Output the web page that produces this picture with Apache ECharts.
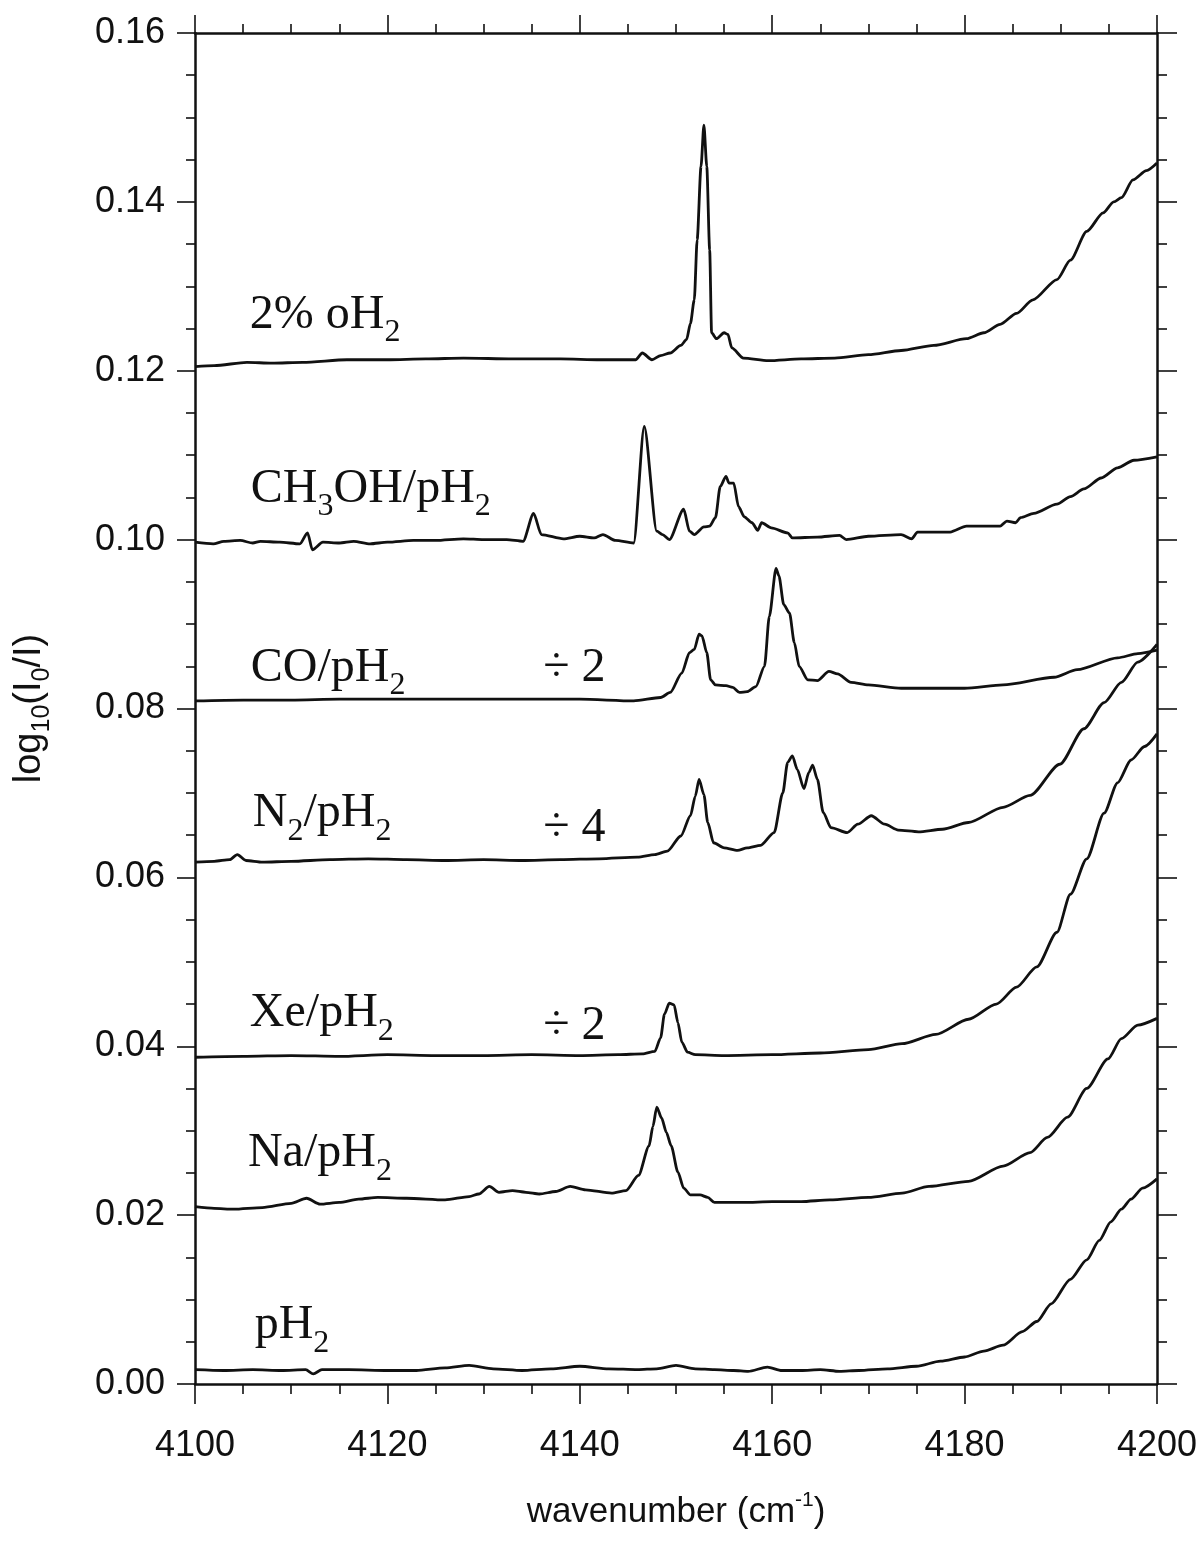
<!DOCTYPE html>
<html>
<head>
<meta charset="utf-8">
<title>Q1 region spectra of doped solid pH2</title>
<script src="https://cdn.jsdelivr.net/npm/echarts@6/dist/echarts.min.js"></script>
<style>
  html, body { margin: 0; padding: 0; background: #fff; }
  #chart { width: 1204px; height: 1543px; }
</style>
</head>
<body>
<div id="chart"></div>
<script>
// axis ranges
const xRange = [4100, 4200]
const yRange = [0, 0.16]

// traces, [wavenumber, log10(I0/I)]
const oH2 = [
  [4100, 0.1205], [4102, 0.1206], [4105.4, 0.1210], [4108, 0.1209], [4111.2, 0.1210],
  [4115.8, 0.1213], [4120, 0.1213], [4124, 0.1214], [4127.9, 0.1215], [4133, 0.1214],
  [4138, 0.1214], [4142.1, 0.1213], [4145.8, 0.1213], [4146.5, 0.1221], [4147.5, 0.1213],
  [4148.4, 0.1218], [4149.4, 0.1221], [4150.5, 0.1230], [4151.1, 0.1237], [4151.5, 0.1256],
  [4151.9, 0.1284], [4152.2, 0.1355], [4152.6, 0.1442], [4152.9, 0.1491], [4153.2, 0.1442],
  [4153.5, 0.1343], [4153.7, 0.1245], [4154.2, 0.1238], [4155.0, 0.1245], [4155.4, 0.1243],
  [4155.8, 0.1227], [4157.0, 0.1215], [4159.6, 0.1212], [4163, 0.1214], [4166.5, 0.1215],
  [4170, 0.1219], [4173.4, 0.1224], [4176.8, 0.1230], [4180.2, 0.1238], [4182, 0.1245],
  [4183.7, 0.1255], [4185.4, 0.1268], [4187.1, 0.1284], [4189.6, 0.1308], [4191, 0.1331],
  [4192.7, 0.1365], [4194.4, 0.1387], [4195.5, 0.1400], [4196.3, 0.1405], [4197.5, 0.1426],
  [4198.9, 0.1437], [4200, 0.1446]
]

const ch3oh = [
  [4100, 0.0997], [4101.9, 0.0995], [4103, 0.0998], [4104.7, 0.0999], [4106, 0.0996],
  [4106.8, 0.0998], [4108.8, 0.0997], [4110.9, 0.0995], [4111.7, 0.1008], [4112.2, 0.0988],
  [4113.3, 0.0997], [4115, 0.0996], [4116.5, 0.0998], [4118.2, 0.0995], [4120, 0.0997],
  [4122.7, 0.0999], [4125, 0.0999], [4127.9, 0.1001], [4130, 0.1000], [4132.4, 0.1000],
  [4134.1, 0.0998], [4135.2, 0.1031], [4136, 0.1006], [4138.3, 0.1001], [4140, 0.1004],
  [4141.5, 0.1002], [4142.4, 0.1006], [4143.7, 0.0999], [4145.6, 0.0996], [4146.7, 0.1134],
  [4148, 0.1010], [4148.6, 0.1006], [4149.3, 0.1000], [4150.8, 0.1036], [4151.4, 0.1010],
  [4151.9, 0.1006], [4152.9, 0.1015], [4153.5, 0.1016], [4154.1, 0.1026], [4154.6, 0.1063],
  [4155.2, 0.1075], [4155.5, 0.1067], [4156.0, 0.1067], [4156.5, 0.1039], [4157.1, 0.1027],
  [4157.9, 0.1020], [4158.5, 0.1011], [4158.9, 0.1020], [4159.9, 0.1014], [4161.6, 0.1008],
  [4162.1, 0.1002], [4164.7, 0.1003], [4167, 0.1005], [4167.7, 0.1000], [4170, 0.1004],
  [4173.4, 0.1006], [4174.5, 0.1001], [4175.1, 0.1009], [4178.5, 0.1009], [4180.2, 0.1016],
  [4183.7, 0.1016], [4184.4, 0.1022], [4185.3, 0.1020], [4185.8, 0.1026], [4187.2, 0.1031],
  [4189.6, 0.1042], [4191, 0.1051], [4192.4, 0.1060], [4194.2, 0.1073], [4195.9, 0.1085],
  [4197.6, 0.1094], [4200, 0.1098]
]

const co = [
  [4100, 0.0809], [4105, 0.0810], [4110, 0.0810], [4115, 0.0811], [4120, 0.0811],
  [4125, 0.0811], [4130, 0.0811], [4135, 0.0811], [4140, 0.0811], [4145.6, 0.0809],
  [4148.4, 0.0813], [4149.4, 0.0819], [4150.6, 0.0842], [4151.4, 0.0866], [4151.9, 0.0870],
  [4152.4, 0.0888], [4152.7, 0.0886], [4153.2, 0.0866], [4153.6, 0.0834], [4154.1, 0.0828],
  [4155.2, 0.0827], [4155.9, 0.0825], [4156.6, 0.0819], [4157.4, 0.0820], [4158.3, 0.0826],
  [4159.2, 0.0850], [4159.7, 0.0909], [4160.4, 0.0966], [4160.7, 0.0957], [4161.2, 0.0923],
  [4161.8, 0.0913], [4162.3, 0.0878], [4162.8, 0.0850], [4163.7, 0.0834], [4164.7, 0.0833],
  [4165.9, 0.0844], [4166.8, 0.0841], [4168.2, 0.0831], [4170, 0.0828], [4173.4, 0.0824],
  [4176.9, 0.0824], [4180, 0.0824], [4184, 0.0828], [4189.3, 0.0837], [4191.7, 0.0846],
  [4195.9, 0.0860], [4198, 0.0865], [4200, 0.0869]
]

const n2 = [
  [4100, 0.0618], [4102, 0.0619], [4103.6, 0.0621], [4104.4, 0.0627], [4105.3, 0.0620],
  [4107, 0.0618], [4110, 0.0619], [4114, 0.0621], [4118, 0.0622], [4122, 0.0621],
  [4126, 0.0620], [4130, 0.0621], [4134, 0.0620], [4138, 0.0621], [4142, 0.0622],
  [4146, 0.0624], [4147.8, 0.0627], [4149.1, 0.0631], [4150.5, 0.0649], [4151.5, 0.0673],
  [4152.0, 0.0696], [4152.4, 0.0716], [4152.9, 0.0698], [4153.3, 0.0665], [4153.9, 0.0641],
  [4155, 0.0635], [4156.4, 0.0632], [4157.4, 0.0635], [4158.8, 0.0638], [4160.2, 0.0653],
  [4161.1, 0.0700], [4161.6, 0.0736], [4162.1, 0.0744], [4162.6, 0.0728], [4163.3, 0.0705],
  [4163.8, 0.0724], [4164.2, 0.0733], [4164.7, 0.0716], [4165.3, 0.0677], [4166.1, 0.0659],
  [4167.8, 0.0653], [4168.9, 0.0663], [4170.3, 0.0673], [4171.7, 0.0663], [4173.1, 0.0656],
  [4175.2, 0.0654], [4177.7, 0.0657], [4180.4, 0.0665], [4184, 0.0683], [4186.8, 0.0697],
  [4189.9, 0.0734], [4192.4, 0.0776], [4194.5, 0.0807], [4196.3, 0.0831], [4198, 0.0855],
  [4200, 0.0876]
]

const xe = [
  [4100, 0.0387], [4105, 0.0388], [4110, 0.0389], [4115, 0.0388], [4120, 0.0390],
  [4125, 0.0389], [4130, 0.0389], [4135, 0.0390], [4140, 0.0389], [4144, 0.0390],
  [4146.5, 0.0391], [4147.8, 0.0394], [4148.4, 0.0410], [4148.8, 0.0438], [4149.3, 0.0451],
  [4149.8, 0.0449], [4150.2, 0.0428], [4150.6, 0.0405], [4151.2, 0.0393], [4152, 0.0390],
  [4155, 0.0389], [4160, 0.0390], [4165, 0.0392], [4170, 0.0396], [4173.5, 0.0403],
  [4177, 0.0414], [4180.4, 0.0432], [4183.3, 0.0450], [4185.4, 0.0470], [4187.5, 0.0494],
  [4189.6, 0.0535], [4191, 0.0580], [4192.7, 0.0622], [4194.5, 0.0676], [4195.9, 0.0712],
  [4197.3, 0.0739], [4198.7, 0.0755], [4200, 0.0770]
]

const na = [
  [4100, 0.0210], [4102, 0.0208], [4104, 0.0207], [4107, 0.0209], [4110, 0.0214],
  [4111.6, 0.0220], [4113, 0.0213], [4115, 0.0215], [4117, 0.0219], [4119, 0.0221],
  [4122, 0.0220], [4126, 0.0218], [4128.5, 0.0222], [4129.5, 0.0225], [4130.6, 0.0234],
  [4131.6, 0.0227], [4133, 0.0229], [4134.4, 0.0227], [4135.8, 0.0225], [4137.5, 0.0228],
  [4139, 0.0234], [4140.6, 0.0230], [4143.3, 0.0226], [4144.8, 0.0229], [4146.1, 0.0247],
  [4147.2, 0.0282], [4147.6, 0.0305], [4148.0, 0.0328], [4148.5, 0.0315], [4149.0, 0.0298],
  [4149.5, 0.0282], [4150.2, 0.0251], [4150.8, 0.0232], [4151.5, 0.0224], [4152.5, 0.0224],
  [4153.3, 0.0221], [4154, 0.0215], [4157, 0.0215], [4160, 0.0216], [4163, 0.0216],
  [4166, 0.0218], [4170, 0.0221], [4173.5, 0.0226], [4176.3, 0.0234], [4180.4, 0.0240],
  [4184, 0.0258], [4186.8, 0.0274], [4188.6, 0.0292], [4190.7, 0.0316], [4192.7, 0.0350],
  [4194.9, 0.0385], [4196.3, 0.0409], [4198, 0.0425], [4200, 0.0433]
]

const pH2 = [
  [4100, 0.0017], [4103, 0.0016], [4106, 0.0017], [4109, 0.0016], [4111.5, 0.0017],
  [4112.3, 0.0012], [4113.2, 0.0017], [4116, 0.0017], [4120, 0.0016], [4123, 0.0016],
  [4126, 0.0019], [4128.5, 0.0022], [4131, 0.0018], [4134, 0.0016], [4137, 0.0018],
  [4140, 0.0021], [4143, 0.0018], [4146, 0.0017], [4148, 0.0018], [4150, 0.0022],
  [4152, 0.0018], [4154, 0.0017], [4156, 0.0016], [4157.5, 0.0015], [4159.5, 0.0020],
  [4161, 0.0016], [4163, 0.0016], [4165, 0.0017], [4167, 0.0015], [4169, 0.0016],
  [4172, 0.0018], [4175, 0.0021], [4177.5, 0.0027], [4180, 0.0032], [4182, 0.0039],
  [4184, 0.0046], [4186, 0.0062], [4187.5, 0.0074], [4189, 0.0095], [4191, 0.0124],
  [4192.7, 0.0147], [4194, 0.0170], [4195.2, 0.0192], [4196.3, 0.0207], [4197.3, 0.0219],
  [4198.5, 0.0232], [4200, 0.0243]
]

const traces = [oH2, ch3oh, co, n2, xe, na, pH2]

var myChart = echarts.init(document.getElementById('chart'))

const ink = '#111'
const sans = 'Liberation Sans'
const serif = 'Liberation Serif'

// axis looks shared by all four sides
function frameAxis(extra) {
  return Object.assign({
    axisLine: { show: true, onZero: false, lineStyle: { color: ink, width: 2.5 } },
    axisTick: { show: true, inside: false, length: 18, lineStyle: { color: ink, width: 1.6 } },
    minorTick: { show: true, splitNumber: 4, length: 9, lineStyle: { color: ink, width: 1.6 } },
    splitLine: { show: false },
    minorSplitLine: { show: false }
  }, extra)
}

var option = {
  backgroundColor: '#fff',
  animation: false,
  grid: { left: 195, right: 47, top: 33, bottom: 159 },
  xAxis: [
    frameAxis({
      type: 'value', position: 'bottom', min: xRange[0], max: xRange[1], interval: 20,
      axisTick: { show: true, inside: false, length: 20, lineStyle: { color: ink, width: 1.6 } },
      minorTick: { show: true, splitNumber: 4, length: 10, lineStyle: { color: ink, width: 1.6 } },
      axisLabel: { color: ink, fontFamily: sans, fontSize: 36, margin: 44, formatter: v => String(v) },
      name: '{n|wavenumber (cm}{sup|-1}{n|)}',
      nameLocation: 'middle',
      nameGap: 106,
      nameTextStyle: {
        color: ink,
        rich: {
          n: { fontFamily: sans, fontSize: 35, lineHeight: 44, color: ink },
          sup: { fontFamily: sans, fontSize: 21, lineHeight: 22, verticalAlign: 'top', color: ink }
        }
      }
    }),
    frameAxis({
      type: 'value', position: 'top', min: xRange[0], max: xRange[1], interval: 20,
      axisLabel: { show: false }
    })
  ],
  yAxis: [
    frameAxis({
      type: 'value', position: 'left', min: yRange[0], max: yRange[1], interval: 0.02,
      axisLabel: {
        color: ink, fontFamily: sans, fontSize: 36, margin: 30,
        formatter: v => v.toFixed(2)
      },
      name: '{n|log}{s|10}{n|(I}{s|0}{n|/I)}',
      nameLocation: 'middle',
      nameGap: 140,
      nameTextStyle: {
        color: ink,
        rich: {
          n: { fontFamily: sans, fontSize: 38, lineHeight: 50, color: ink },
          s: { fontFamily: sans, fontSize: 25, lineHeight: 24, verticalAlign: 'bottom', color: ink }
        }
      }
    }),
    frameAxis({
      type: 'value', position: 'right', min: yRange[0], max: yRange[1], interval: 0.02,
      axisTick: { show: true, inside: false, length: 20, lineStyle: { color: ink, width: 1.6 } },
      minorTick: { show: true, splitNumber: 4, length: 10, lineStyle: { color: ink, width: 1.6 } },
      axisLabel: { show: false }
    })
  ],
  series: []
}

traces.forEach(data => {
  option.series.push({
    type: 'line',
    xAxisIndex: 0,
    yAxisIndex: 0,
    data: data,
    showSymbol: false,
    smooth: 0.25,
    smoothMonotone: 'x',
    lineStyle: { color: ink, width: 2.8 },
    silent: true
  })
})

myChart.setOption(option)

// trace names, anchored in data space (left edge, text middle)
const richLabel = {
  m: { fontFamily: serif, fontSize: 48, lineHeight: 68, color: ink },
  s: { fontFamily: serif, fontSize: 32, lineHeight: 32, verticalAlign: 'bottom', color: ink }
}
const labels = [
  ['{m|2% oH}{s|2}', [4105.7, 0.1266]],
  ['{m|CH}{s|3}{m|OH/pH}{s|2}', [4105.8, 0.1060]],
  ['{m|CO/pH}{s|2}', [4105.8, 0.0848]],
  ['{m|÷ 2}', [4136.2, 0.0848]],
  ['{m|N}{s|2}{m|/pH}{s|2}', [4106.0, 0.0676]],
  ['{m|÷ 4}', [4136.2, 0.0658]],
  ['{m|Xe/pH}{s|2}', [4105.7, 0.0439]],
  ['{m|÷ 2}', [4136.2, 0.0424]],
  ['{m|Na/pH}{s|2}', [4105.5, 0.0273]],
  ['{m|pH}{s|2}', [4106.2, 0.0069]]
]

myChart.setOption({
  graphic: labels.map(([text, at]) => {
    const p = myChart.convertToPixel({ gridIndex: 0 }, at)
    return {
      type: 'text',
      x: p[0],
      y: p[1],
      silent: true,
      style: {
        text: text,
        rich: richLabel,
        align: 'left',
        verticalAlign: 'middle',
        fill: ink
      }
    }
  })
})
</script>
</body>
</html>
